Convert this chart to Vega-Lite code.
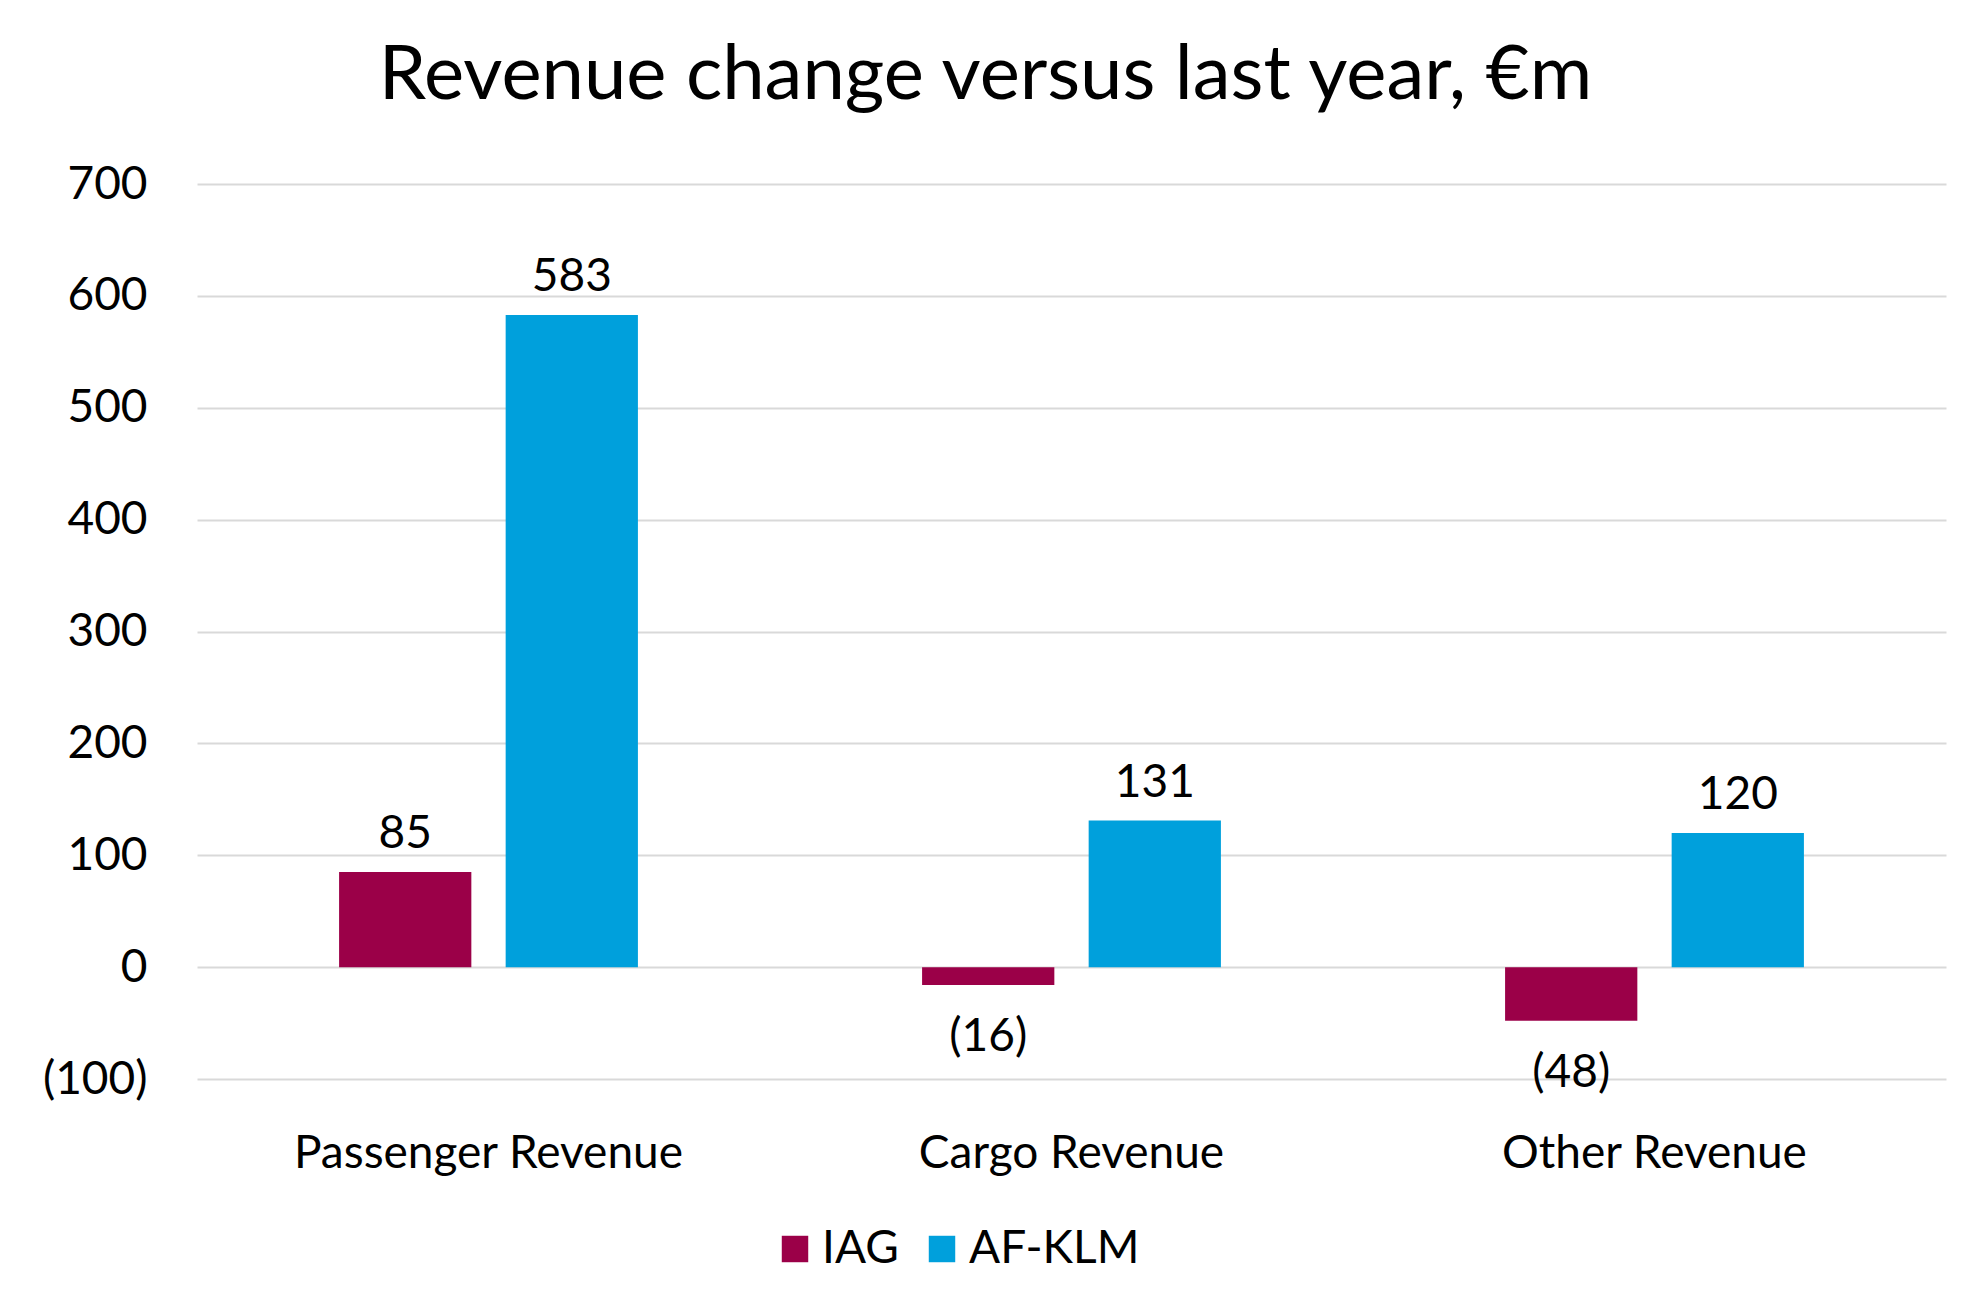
{
  "$schema": "https://vega.github.io/schema/vega-lite/v6.json",
  "autosize": "none",
  "padding": {"left": 197, "top": 184, "right": 28, "bottom": 235},
  "width": 1749,
  "height": 895,
  "background": "white",
  "title": {"text": "Revenue change versus last year, €m", "fontSize": 76, "font": "Lato", "fontWeight": "normal", "color": "#000", "offset": 46, "dx": -86, "limit": 0},
  "data": {"values": [
    {"cat": "Passenger Revenue", "co": "IAG", "v": 85},
    {"cat": "Passenger Revenue", "co": "AF-KLM", "v": 583},
    {"cat": "Cargo Revenue", "co": "IAG", "v": -16},
    {"cat": "Cargo Revenue", "co": "AF-KLM", "v": 131},
    {"cat": "Other Revenue", "co": "IAG", "v": -48},
    {"cat": "Other Revenue", "co": "AF-KLM", "v": 120}
  ]},
  "transform": [
    {"calculate": "datum.v < 0 ? '(' + abs(datum.v) + ')' : '' + datum.v", "as": "lbl"}
  ],
  "encoding": {
    "x": {"field": "cat", "type": "nominal", "sort": null, "scale": {"paddingInner": 0, "paddingOuter": 0},
      "axis": {"title": null, "labelAngle": 0, "domain": false, "ticks": false, "labelPadding": 52, "labelFontSize": 46, "labelFont": "Lato", "labelColor": "#000", "labelLimit": 0}},
    "xOffset": {"field": "co", "sort": ["IAG", "AF-KLM"], "scale": {"paddingInner": 0.206, "paddingOuter": 0.853}},
    "y": {"field": "v", "type": "quantitative", "scale": {"domain": [-100, 700]},
      "axis": {"title": null, "values": [-100, 0, 100, 200, 300, 400, 500, 600, 700], "labelOverlap": false, "labelExpr": "datum.value < 0 ? '(' + abs(datum.value) + ')' : datum.value", "domain": false, "ticks": false, "labelPadding": 50, "labelFontSize": 46, "labelFont": "Lato", "labelColor": "#000", "gridColor": "#d9d9d9", "gridWidth": 2}}
  },
  "layer": [
    {"mark": {"type": "bar"},
      "encoding": {"color": {"field": "co", "type": "nominal", "sort": ["IAG", "AF-KLM"],
        "scale": {"domain": ["IAG", "AF-KLM"], "range": ["#9b0048", "#00a0dc"]},
        "legend": {"title": null, "orient": "none", "direction": "horizontal", "legendX": 575, "legendY": 1042, "symbolType": "square", "symbolSize": 700, "labelFontSize": 46, "labelFont": "Lato", "labelColor": "#000", "labelLimit": 0, "columnPadding": 20, "symbolOpacity": 1}}}},
    {"transform": [{"filter": "datum.v >= 0"}],
      "mark": {"type": "text", "baseline": "bottom", "dy": -14, "fontSize": 46, "font": "Lato", "color": "#000"},
      "encoding": {"text": {"field": "lbl"}}},
    {"transform": [{"filter": "datum.v < 0"}],
      "mark": {"type": "text", "baseline": "top", "dy": 30, "fontSize": 46, "font": "Lato", "color": "#000"},
      "encoding": {"text": {"field": "lbl"}}}
  ],
  "config": {"view": {"stroke": null}}
}
